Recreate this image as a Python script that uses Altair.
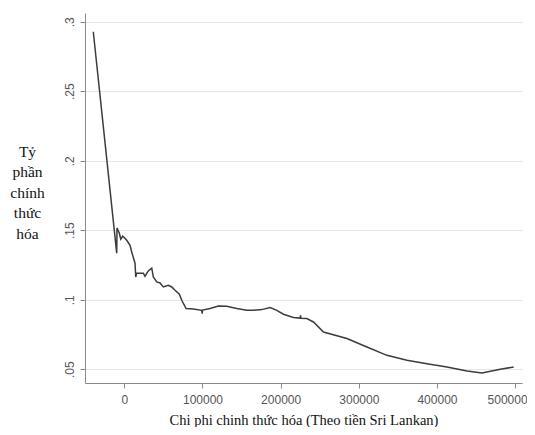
import altair as alt
import pandas as pd

cost = [-39700, -9730, -9350, -6400, -4600, -2050, 900, 3070, 7300, 9470,
        13700, 14600, 15900, 24300, 26500, 30700, 35100, 37100, 41500, 45700,
        49900, 56300, 60700, 64900, 70400, 73500, 79000, 88300, 99100, 99600, 100100, 109700,
        120400, 131100, 143900, 156700, 165200, 175900, 186600, 195100, 203600,
        216400, 225000, 225500, 226000, 233500, 242000, 254800, 284800, 310400, 336000, 361600, 387200,
        412800, 438400, 457600, 481000, 498100]
share = [0.2928, 0.1335, 0.1517, 0.1479, 0.1436, 0.1457, 0.1443, 0.1428, 0.1392, 0.1344,
         0.1263, 0.1164, 0.1193, 0.1191, 0.1169, 0.1207, 0.1227, 0.1164, 0.1128, 0.1121,
         0.1092, 0.1104, 0.1092, 0.1068, 0.1040, 0.0996, 0.0937, 0.0934, 0.0924, 0.0900, 0.0926, 0.0937,
         0.0955, 0.0953, 0.0937, 0.0924, 0.0924, 0.0929, 0.0944, 0.0924, 0.0896,
         0.0872, 0.0868, 0.0888, 0.0866, 0.0865, 0.0840, 0.0768, 0.0721, 0.0660, 0.0600, 0.0564, 0.0540,
         0.0516, 0.0487, 0.0473, 0.0500, 0.0516]

x_ticks = [0, 100000, 200000, 300000, 400000, 500000]
y_ticks = [0.05, 0.1, 0.15, 0.2, 0.25, 0.3]
x_title = "Chi phi chinh thức hóa (Theo tiền Sri Lankan)"
y_title = ["Tỷ", "phần", "chính", "thức", "hóa"]

df = pd.DataFrame({"cost": cost, "share": share, "order": list(range(len(cost)))})

chart = alt.Chart(df).mark_line(color="#3c3c3c", strokeWidth=1.5).encode(
    x=alt.X("cost:Q",
            scale=alt.Scale(domain=[-50300, 508800], nice=False, zero=False),
            axis=alt.Axis(values=x_ticks, format="d", title=x_title, grid=False,
                          tickSize=5, labelPadding=6,
                          labelFlush=10, labelFlushOffset=12,
                          titleY=41, titleBaseline="alphabetic")),
    y=alt.Y("share:Q",
            scale=alt.Scale(domain=[0.0401, 0.3063], nice=False, zero=False),
            axis=alt.Axis(values=y_ticks,
                          labelExpr="substring(format(datum.value, '.2~f'), 1)",
                          title=y_title, grid=True, gridColor="#e6e6e6",
                          tickSize=5, labelAngle=270, labelAlign="center",
                          labelBaseline="bottom", labelPadding=4,
                          titleAngle=0, titleX=-58, titleY=143,
                          titleAlign="center", titleBaseline="alphabetic",
                          titleLineHeight=20.5, titleFontSize=15.5)),
    order="order:Q",
).properties(
    width=437, height=370,
    autosize=alt.AutoSizeParams(type="none"),
    padding={"left": 77, "top": 5, "right": 5, "bottom": 44},
).configure_view(
    stroke=None
).configure_axis(
    domainColor="#8a8a8a", tickColor="#8a8a8a", labelColor="#555555",
    labelFont="Liberation Sans", labelFontSize=12,
    titleFont="Liberation Serif", titleFontWeight="normal", titleColor="#111111",
    titleFontSize=14.5
)

chart.save("out.html", embed_options={"renderer": "svg", "actions": False})
